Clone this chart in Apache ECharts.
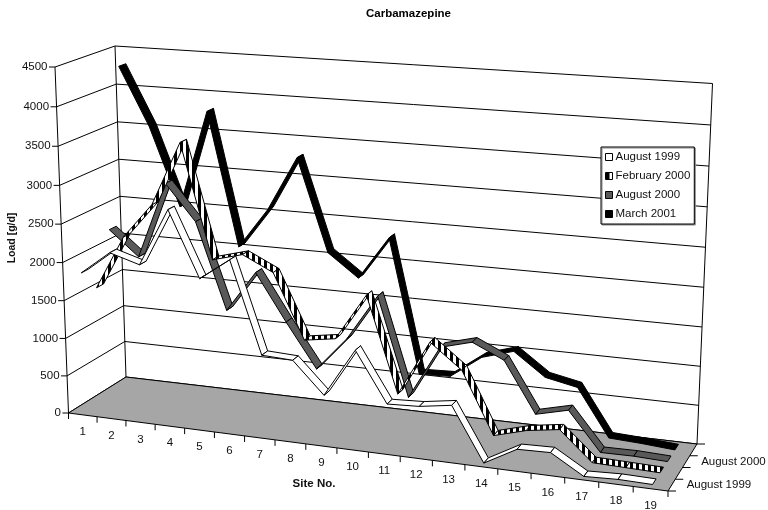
<!DOCTYPE html>
<html><head><meta charset="utf-8">
<style>html,body{margin:0;padding:0;background:#fff}#c{width:768px;height:510px}</style>
<script src="https://cdn.jsdelivr.net/npm/echarts@6/dist/echarts.min.js"></script>
</head><body><div id="c"></div>
<script>
const sites=['1','2','3','4','5','6','7','8','9','10','11','12','13','14','15','16','17','18','19'];
const yTicks=[0,500,1000,1500,2000,2500,3000,3500,4000,4500];
const aug1999=[1860,2163,2047,2794,1950,2232,1048,1030,625,1252,611,631,695,10,240,252,5,23,15];
const feb2000=[1562,2275,2730,3561,2090,2197,2005,1172,1235,1840,611,1327,1013,225,341,405,36,26,16];
const aug2000=[2235,1911,2915,2449,1318,1858,1247,671,1114,1714,437,1137,1247,1060,412,514,21,26,10];
const mar2001=[4299,3541,2515,3794,2053,2578,3287,2088,1793,2354,612,628,923,1046,753,669,62,41,10];
const depthLabels=['August 1999','','August 2000',''];
const FONT='"Liberation Sans",Arial,sans-serif';
const W=768,H=510;

function proj(u,v,w){
  const uu=u/(1+0.11*(1-u)), ww=w/(1+0.04*(1-w));
  const fx=68.5+57.5*v+(599.5-28.5*v)*uu, fy=413-36*v+(78-11*v)*uu;
  const h=346-15*v+29.5*uu, dx=-13.5+2.5*v+26.5*uu;
  return [fx+dx*ww, fy-h*ww];
}
function stripes(){
  const c=document.createElement('canvas');c.width=6;c.height=6;
  const g=c.getContext('2d');g.fillStyle='#fff';g.fillRect(0,0,6,6);g.fillStyle='#000';g.fillRect(0,0,3,6);
  return {image:c,repeat:'repeat'};
}
function swatch(){
  const c=document.createElement('canvas');c.width=8;c.height=8;
  const g=c.getContext('2d');g.fillStyle='#fff';g.fillRect(0,0,8,8);g.fillStyle='#000';g.fillRect(0,0,4,8);
  return {image:c,repeat:'repeat'};
}
const stripeFill=stripes();
const DV=0.06;
const uw=(api,i,val)=>{const p=api.coord([i,val]);return [p[0]/W,1-p[1]/H];};

function ribbon(values,vc,fill){
  return function(params,api){
    const i=params.dataIndex;
    if(i>=values.length-1) return null;
    const [u0,w0]=uw(api,i,values[i]),[u1,w1]=uw(api,i+1,values[i+1]);
    return {type:'polygon',silent:true,shape:{points:[
      proj(u0,vc-DV,w0),proj(u1,vc-DV,w1),proj(u1,vc+DV,w1),proj(u0,vc+DV,w0)]},
      style:{fill:fill,stroke:'#000',lineWidth:1,lineJoin:'round'}};
  };
}
const line=(a,b,lw)=>({type:'line',silent:true,shape:{x1:a[0],y1:a[1],x2:b[0],y2:b[1]},style:{stroke:'#000',lineWidth:lw||1}});
const text=(x,y,t,o)=>({type:'text',silent:true,x:x,y:y,rotation:(o&&o.rot)||0,style:Object.assign({text:t,font:((o&&o.bold)?'bold ':'')+((o&&o.size)||11.5)+'px '+FONT,fill:'#111',align:(o&&o.align)||'center',verticalAlign:'middle'})});

const walls={type:'custom',coordinateSystem:'cartesian2d',silent:true,z:1,data:yTicks.map(t=>[0,t]),
  renderItem(p,api){
    const t=yTicks[p.dataIndex],w=uw(api,0,t)[1];
    const a=proj(0,0,w),b=proj(0,1,w),c=proj(1,1,w);
    const ch=[line(a,b),line(b,c),line([a[0]-6,a[1]],a),
      text(a[0]-7.5,a[1],String(t),{align:'right'})];
    if(p.dataIndex===yTicks.length-1){
      ch.push(line(proj(0,0,0),a),line(proj(0,1,0),b),line(proj(1,1,0),c));
    }
    return {type:'group',children:ch};
  }};
const floor={type:'custom',coordinateSystem:'cartesian2d',silent:true,z:2,data:[[0,0]],
  renderItem(){
    return {type:'polygon',silent:true,shape:{points:[proj(0,0,0),proj(1,0,0),proj(1,1,0),proj(0,1,0)]},
      style:{fill:'#A6A6A6',stroke:'#000',lineWidth:1}};
  }};
const xTicks={type:'custom',coordinateSystem:'cartesian2d',silent:true,z:3,data:sites.map((s,i)=>[i,0]),
  renderItem(p,api){
    const i=p.dataIndex,[u]=uw(api,i,0),hb=api.size([1,0])[0]/2/W;
    const a=proj(u-hb,0,0),m=proj(u,0,0);
    const ch=[line(a,[a[0],a[1]+6]),text(m[0],m[1]+17,sites[i])];
    if(i===sites.length-1){const e=proj(u+hb,0,0);ch.push(line(e,[e[0],e[1]+6]));}
    return {type:'group',children:ch};
  }};
const zTicks={type:'custom',coordinateSystem:'cartesian2d',silent:true,z:3,data:[0,1,2,3,4].map(i=>[0,i]),
  renderItem(p){
    const i=p.dataIndex,a=proj(1,i/4,0),ch=[line(a,[a[0]+8,a[1]])];
    if(depthLabels[i]){const m=proj(1,(i+0.5)/4,0);ch.push(text(m[0]+15,m[1],depthLabels[i],{align:'left'}));}
    return {type:'group',children:ch};
  }};
const seriesDef=(name,values,vc,fill,z)=>({name,type:'custom',coordinateSystem:'cartesian2d',silent:true,z,
  data:values.map((v,i)=>[i,v]),encode:{x:0,y:1},renderItem:ribbon(values,vc,fill)});

const chart=echarts.init(document.getElementById('c'),null,{renderer:'canvas'});
chart.setOption({
  animation:false,
  backgroundColor:'#fff',
  title:{text:'Carbamazepine',left:366,top:8,padding:0,textStyle:{fontFamily:FONT,fontWeight:'bold',fontSize:11.5,color:'#000'}},
  grid:{left:0,right:0,top:0,bottom:0},
  xAxis:{type:'category',data:sites,show:false},
  yAxis:{type:'value',min:0,max:4500,interval:500,show:false},
  legend:{orient:'vertical',left:601,top:147,padding:[4,4,4,4],itemWidth:7,itemHeight:7,itemGap:7,
    backgroundColor:'#fff',borderColor:'#000',borderWidth:1,
    shadowColor:'#888',shadowBlur:0,shadowOffsetX:1,shadowOffsetY:1,
    selectedMode:false,
    textStyle:{fontFamily:FONT,fontSize:11.5,color:'#111',lineHeight:12,padding:[0,0,0,-2]},
    data:[
      {name:'August 1999',icon:'rect',itemStyle:{color:'#fff',borderColor:'#000',borderWidth:1}},
      {name:'February 2000',icon:'rect',itemStyle:{color:swatch(),borderColor:'#000',borderWidth:1}},
      {name:'August 2000',icon:'rect',itemStyle:{color:'#595959',borderColor:'#000',borderWidth:1}},
      {name:'March 2001',icon:'rect',itemStyle:{color:'#000',borderColor:'#000',borderWidth:1}}
    ]},
  graphic:[
    {type:'text',x:12,y:238,rotation:Math.PI/2,silent:true,style:{text:'Load [g/d]',font:'bold 10.5px '+FONT,fill:'#111',align:'center',verticalAlign:'middle'}},
    {type:'text',x:314,y:484,silent:true,style:{text:'Site No.',font:'bold 11.5px '+FONT,fill:'#111',align:'center',verticalAlign:'middle'}}
  ],
  series:[walls,floor,xTicks,zTicks,
    seriesDef('March 2001',mar2001,0.875,'#000',10),
    seriesDef('August 2000',aug2000,0.625,'#595959',11),
    seriesDef('February 2000',feb2000,0.375,stripeFill,12),
    seriesDef('August 1999',aug1999,0.125,'#fff',13)
  ]
});
</script></body></html>
